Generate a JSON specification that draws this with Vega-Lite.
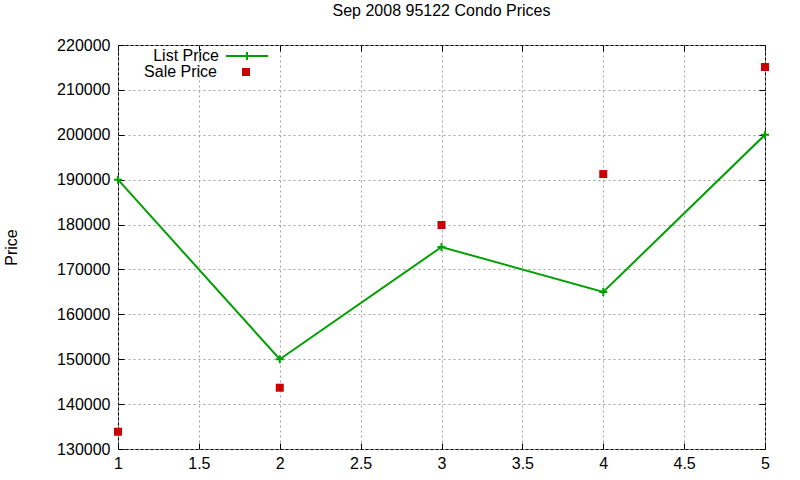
{
  "$schema": "https://vega.github.io/schema/vega-lite/v6.json",
  "width": 647,
  "height": 404,
  "autosize": {"type": "none"},
  "padding": {"left": 118, "top": 45, "right": 35, "bottom": 31},
  "background": "white",
  "config": {
    "font": "Liberation Sans",
    "view": {"stroke": "black", "strokeWidth": 1},
    "axis": {
      "labelFont": "Liberation Sans",
      "labelFontSize": 16,
      "labelColor": "black",
      "titleFont": "Liberation Sans",
      "titleFontSize": 16,
      "titleFontWeight": "normal",
      "titleColor": "black",
      "tickColor": "black",
      "tickSize": -6,
      "tickWidth": 1,
      "domain": false,
      "labelFlush": false,
      "gridColor": "#a0a0a0",
      "gridDash": [2, 3],
      "gridWidth": 1,
      "gridOpacity": 1
    },
    "legend": {
      "title": null,
      "orient": "none",
      "padding": 0,
      "symbolSize": 1764,
      "symbolOffset": 0,
      "labelFontSize": 16,
      "labelFont": "Liberation Sans",
      "labelColor": "black",
      "labelAlign": "right",
      "labelOffset": -50,
      "symbolOpacity": 1
    }
  },
  "title": {
    "text": "Sep 2008 95122 Condo Prices",
    "fontSize": 16,
    "fontWeight": "normal",
    "font": "Liberation Sans",
    "color": "black",
    "anchor": "middle",
    "offset": 15
  },
  "data": {
    "values": [
      {"x": 1, "price": 190000, "series": "List Price"},
      {"x": 2, "price": 150000, "series": "List Price"},
      {"x": 3, "price": 175000, "series": "List Price"},
      {"x": 4, "price": 165000, "series": "List Price"},
      {"x": 5, "price": 200000, "series": "List Price"},
      {"x": 1, "price": 133850, "series": "Sale Price"},
      {"x": 2, "price": 143650, "series": "Sale Price"},
      {"x": 3, "price": 179900, "series": "Sale Price"},
      {"x": 4, "price": 191250, "series": "Sale Price"},
      {"x": 5, "price": 215100, "series": "Sale Price"}
    ]
  },
  "layer": [
    {
      "transform": [{"filter": "datum.series === 'List Price'"}],
      "mark": {"type": "line", "strokeWidth": 2},
      "encoding": {
        "x": {
          "field": "x", "type": "quantitative",
          "scale": {"domain": [1, 5], "nice": false, "zero": false},
          "axis": {"orient": "bottom", "values": [1, 1.5, 2, 2.5, 3, 3.5, 4, 4.5, 5], "format": "~g", "title": null, "grid": true, "labelPadding": 12}
        },
        "y": {
          "field": "price", "type": "quantitative",
          "scale": {"domain": [130000, 220000], "nice": false, "zero": false},
          "axis": {"orient": "left", "values": [130000, 140000, 150000, 160000, 170000, 180000, 190000, 200000, 210000, 220000], "format": "d", "title": "Price", "grid": true, "labelPadding": 14, "titlePadding": 37}
        },
        "stroke": {
          "field": "series", "type": "nominal",
          "scale": {"domain": ["List Price"], "range": ["#00a000"]},
          "legend": {
            "legendX": 107,
            "legendY": -11,
            "symbolType": "M-1,0H1M0,-0.19V0.19",
            "symbolStrokeWidth": 2,
            "symbolStrokeColor": "#00a000",
            "symbolFillColor": "transparent"
          }
        }
      }
    },
    {
      "transform": [{"filter": "datum.series === 'List Price'"}],
      "mark": {"type": "point", "shape": "M-1,0H1M0,-1V1", "filled": false, "stroke": "#00a000", "strokeWidth": 2, "size": 64, "opacity": 1},
      "encoding": {
        "x": {"field": "x", "type": "quantitative", "axis": {"orient": "top", "labels": false, "grid": false, "title": null, "values": [1, 1.5, 2, 2.5, 3, 3.5, 4, 4.5, 5]}},
        "y": {"field": "price", "type": "quantitative", "axis": {"orient": "right", "labels": false, "grid": false, "title": null, "values": [130000, 140000, 150000, 160000, 170000, 180000, 190000, 200000, 210000, 220000]}}
      }
    },
    {
      "transform": [{"filter": "datum.series === 'Sale Price'"}],
      "mark": {"type": "square", "filled": true, "size": 64, "opacity": 1},
      "encoding": {
        "x": {"field": "x", "type": "quantitative", "axis": null},
        "y": {"field": "price", "type": "quantitative", "axis": null},
        "fill": {
          "field": "series", "type": "nominal",
          "scale": {"domain": ["Sale Price"], "range": ["#cc0000"]},
          "legend": {
            "legendX": 107,
            "legendY": 6,
            "symbolType": "M-0.19,-0.19H0.19V0.19H-0.19Z",
            "symbolStrokeWidth": 0,
            "symbolFillColor": "#cc0000"
          }
        }
      }
    }
  ],
  "resolve": {"axis": {"x": "independent", "y": "independent"}}
}
